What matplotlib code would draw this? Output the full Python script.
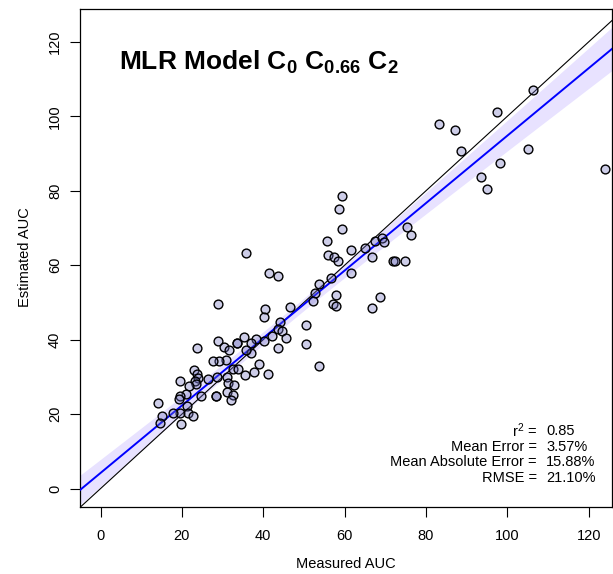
import numpy as np
import matplotlib
matplotlib.use("Agg")
import matplotlib.pyplot as plt

# Measured vs estimated AUC
measured = [83.3, 87.1, 97.4, 106.3, 88.6, 105.1, 98.1, 93.5, 94.9, 124.1,
            59.3, 58.6, 59.4, 55.6, 75.4, 76.2, 61.5, 65.1, 67.5, 69.2,
            69.6, 55.9, 57.3, 58.4, 66.7, 71.9, 72.3, 74.9, 56.6, 61.5,
            53.6, 57.9, 57.1, 57.9, 68.7, 66.8, 41.3, 43.6, 35.8, 52.6,
            52.1, 40.4, 40.2, 46.5, 44.1, 43.5, 44.5, 45.5, 42.2, 40.2,
            38.2, 37.1, 37.0, 43.6, 50.6, 50.4, 53.8, 39.0, 35.2, 33.5,
            33.6, 35.8, 32.6, 33.9, 35.5, 37.7, 41.1, 28.9, 28.9, 23.7,
            30.3, 31.5, 30.9, 29.0, 27.6, 23.0, 23.6, 23.9, 23.2, 23.5,
            21.8, 19.5, 26.4, 28.7, 31.0, 31.3, 32.9, 31.0, 32.6, 32.0,
            28.3, 28.4, 24.7, 20.9, 19.5, 19.2, 21.3, 19.5, 21.6, 22.7,
            14.2, 15.2, 17.7, 19.8, 14.6]
estimated = [97.9, 96.3, 101.2, 107.0, 90.6, 91.2, 87.5, 83.8, 80.5, 85.7,
             78.7, 75.2, 69.6, 66.6, 70.3, 68.0, 64.1, 64.6, 66.5, 67.2,
             66.1, 62.7, 62.1, 61.0, 62.2, 61.2, 61.1, 61.2, 56.5, 57.8,
             55.0, 51.9, 49.5, 49.1, 51.4, 48.6, 58.0, 57.1, 63.4, 52.6,
             50.4, 48.2, 46.0, 48.9, 44.8, 42.9, 42.2, 40.5, 40.9, 39.7,
             40.1, 39.1, 36.4, 37.8, 44.0, 38.9, 33.0, 33.4, 40.8, 39.2,
             39.0, 37.3, 32.1, 32.1, 30.5, 31.4, 30.9, 49.5, 39.7, 37.8,
             38.0, 37.2, 34.5, 34.4, 34.4, 31.8, 30.8, 29.7, 28.8, 28.2,
             27.5, 28.8, 29.5, 30.0, 30.1, 28.3, 27.9, 26.0, 25.2, 23.9,
             25.0, 24.9, 25.0, 25.4, 25.0, 24.0, 22.1, 20.2, 20.2, 19.4,
             22.9, 19.6, 20.3, 17.4, 17.6]

# regression line as drawn in the reference (intercept, slope)
fit_coef = [4.2, 0.906]

x_ticks = [0, 20, 40, 60, 80, 100, 120]
y_ticks = [0, 20, 40, 60, 80, 100, 120]

stat_labels = ["r$^2$ =", "Mean Error =", "Mean Absolute Error =", "RMSE ="]
stat_values = ["0.85", "3.57%", "15.88%", "21.10%"]

plt.rcParams["font.family"] = ["Liberation Sans", "DejaVu Sans"]
plt.rcParams["mathtext.fontset"] = "custom"
plt.rcParams["mathtext.rm"] = "Liberation Sans"
plt.rcParams["mathtext.it"] = "Liberation Sans:italic"
plt.rcParams["mathtext.bf"] = "Liberation Sans:bold"

W, H = 613, 574
fig = plt.figure(figsize=(W / 100, H / 100), dpi=100)
ax = fig.add_axes([80 / W, 1 - 506.5 / H, 532 / W, (506.5 - 8.6) / H])

xmin, xmax = -5.04, 125.7
ymin, ymax = -4.8, 128.9

# line with 95% confidence band around it
x = np.array(measured)
y = np.array(estimated)
n = len(x)
intercept, slope = fit_coef
resid = y - (intercept + slope * x)
s = np.sqrt(np.sum(resid ** 2) / (n - 2))
sxx = np.sum((x - x.mean()) ** 2)
xx = np.linspace(xmin, xmax, 200)
fit = intercept + slope * xx
se = s * np.sqrt(1 / n + (xx - x.mean()) ** 2 / sxx)
ax.fill_between(xx, fit - 1.98 * se, fit + 1.98 * se, color="#e8e2ff", lw=0, zorder=1)

ax.plot([xmin, xmax], [xmin, xmax], color="black", lw=0.8, zorder=2)
ax.plot(xx, fit, color="blue", lw=1.4, zorder=3)

ax.scatter(x, y, s=40, facecolor=(0.44, 0.44, 0.75, 0.35), edgecolor="black",
           linewidth=1.0, zorder=4)

ax.set_xlim(xmin, xmax)
ax.set_ylim(ymin, ymax)
ax.set_xticks(x_ticks)
ax.set_yticks(y_ticks)
ax.tick_params(direction="out", length=7, width=0.8, labelsize=10.5)
ax.tick_params(axis="x", pad=9)
ax.tick_params(axis="y", pad=6)
for lab in ax.get_yticklabels():
    lab.set_rotation(90)
    lab.set_va("center")
for sp in ax.spines.values():
    sp.set_linewidth(0.9)

fig.text(346 / W, 1 - 564 / H, "Measured AUC", ha="center", va="center", fontsize=10.5)
fig.text(25 / W, 1 - 257 / H, "Estimated AUC", ha="center", va="center",
         rotation=90, fontsize=10.5)

fig.text(119 / W, 1 - 70 / H, r"$\mathbf{MLR\ Model\ C_0\ C_{0.66}\ C_2}$",
         ha="left", va="baseline", fontsize=19)

for i, (lab, val) in enumerate(zip(stat_labels, stat_values)):
    yy = 1 - (431 + i * 15.7) / H
    fig.text(537 / W, yy, lab, ha="right", va="center", fontsize=10.5)
    fig.text(546 / W, yy, val, ha="left", va="center", fontsize=10.5)

fig.savefig("out.png", dpi=100)
